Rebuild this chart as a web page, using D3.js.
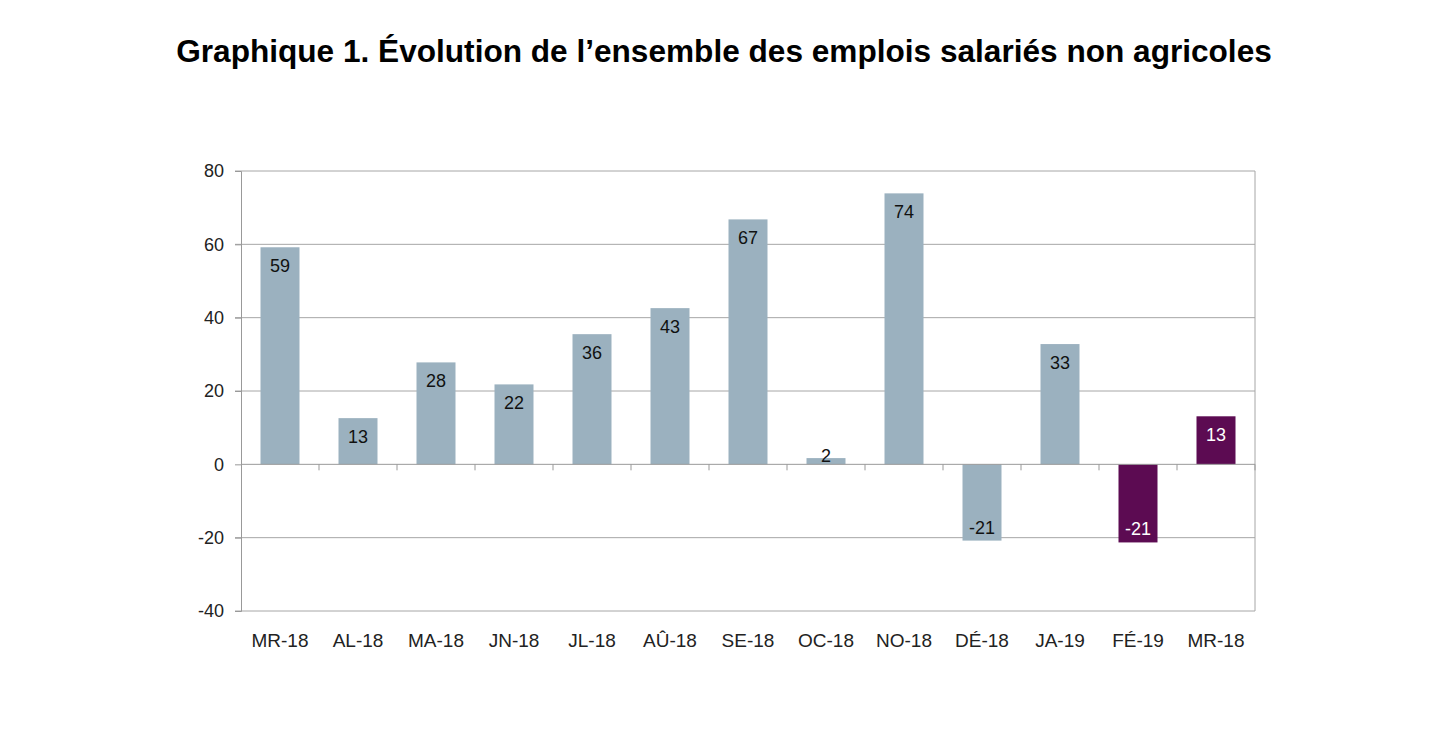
<!DOCTYPE html>
<html><head><meta charset="utf-8">
<script src="https://cdn.jsdelivr.net/npm/d3@7"></script>
<style>body{margin:0;background:#fff;} svg{display:block;font-family:"Liberation Sans",Arial,sans-serif;}</style>
</head><body>
<svg id="c" width="1437" height="753"></svg>
<script>
const title = "Graphique 1. Évolution de l’ensemble des emplois salariés non agricoles";
const categories = ["MR-18","AL-18","MA-18","JN-18","JL-18","AÛ-18","SE-18","OC-18","NO-18","DÉ-18","JA-19","FÉ-19","MR-18 "];
const values = [59.2, 12.6, 27.8, 21.8, 35.5, 42.6, 66.8, 1.7, 73.9, -20.8, 32.8, -21.3, 13.1];
const highlighted = [false,false,false,false,false,false,false,false,false,false,false,true,true];
const yTicks = [-40,-20,0,20,40,60,80];

const svg = d3.select("#c");
const m = {left:241, right:1255, top:171, bottom:611};
const x = d3.scaleBand().domain(categories).range([m.left, m.right]).paddingInner(0.5).paddingOuter(0.25);
const y = d3.scaleLinear().domain([-40, 80]).range([m.bottom, m.top]);
const blue = "#9bb1bf", purple = "#5c0b52", grid = "#a6a6a6";

svg.append("text").attr("x", 724).attr("y", 62).attr("text-anchor","middle")
  .attr("font-size", 31.6).attr("font-weight","bold").attr("fill","#000").text(title);

// gridlines
svg.append("g").selectAll("line").data(yTicks.filter(d=>d!==0)).join("line")
  .attr("x1", m.left-6).attr("x2", m.right).attr("y1", d=>y(d)).attr("y2", d=>y(d))
  .attr("stroke", grid).attr("stroke-width", 1);
// right border
svg.append("line").attr("x1", m.right).attr("x2", m.right).attr("y1", m.top).attr("y2", m.bottom)
  .attr("stroke", grid);

// y axis
const yAxis = svg.append("g").attr("transform",`translate(${m.left},0)`)
  .call(d3.axisLeft(y).tickValues(yTicks).tickSize(6).tickPadding(11).tickFormat(d=>String(d)));
yAxis.select(".domain").attr("stroke","#999");
yAxis.selectAll(".tick line").attr("stroke","#999");
yAxis.selectAll("text").attr("font-size",18).attr("fill","#222").attr("font-family","Liberation Sans, Arial, sans-serif");

// bars
svg.append("g").selectAll("rect").data(values).join("rect")
  .attr("x", (d,i)=>x(categories[i])).attr("width", x.bandwidth())
  .attr("y", d=>y(Math.max(0,d))).attr("height", d=>Math.abs(y(d)-y(0)))
  .attr("fill", (d,i)=>highlighted[i]?purple:blue);

// x axis (zero line) with ticks at band boundaries
svg.append("line").attr("x1", m.left).attr("x2", m.right).attr("y1", y(0)).attr("y2", y(0)).attr("stroke","#999");
const step = x.step();
const bounds = d3.range(1, categories.length+1).map(i=>m.left + i*step);
svg.append("g").selectAll("line").data(bounds).join("line")
  .attr("x1", d=>d).attr("x2", d=>d).attr("y1", y(0)).attr("y2", y(0)+6).attr("stroke","#999");

// category labels
svg.append("g").selectAll("text").data(categories).join("text")
  .attr("x", d=>x(d)+x.bandwidth()/2).attr("y", 647).attr("text-anchor","middle")
  .attr("font-size",19).attr("fill","#222").text(d=>d.trim());

// value labels
svg.append("g").selectAll("text").data(values).join("text")
  .attr("x", (d,i)=>x(categories[i])+x.bandwidth()/2)
  .attr("y", d=> {
    const h = Math.abs(y(d)-y(0));
    if (d >= 0) return h < 25 ? y(0)-2 : y(d)+25;
    return y(d)-7;
  })
  .attr("text-anchor","middle").attr("font-size",18)
  .attr("fill", (d,i)=>highlighted[i]?"#fff":"#111")
  .text(d=>Math.round(d));
</script>
</body></html>
